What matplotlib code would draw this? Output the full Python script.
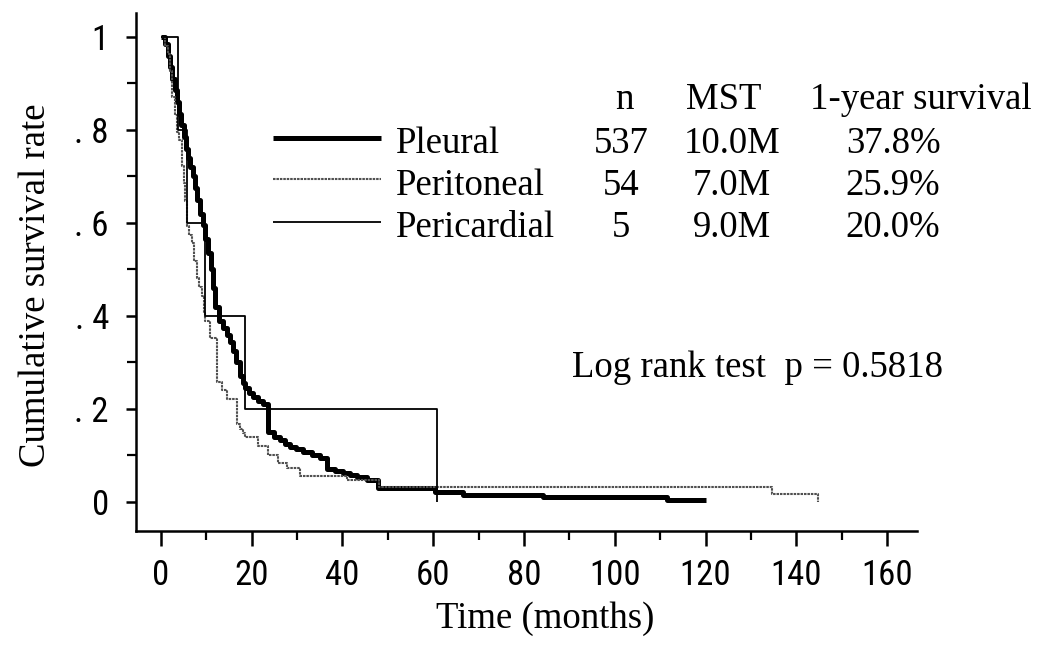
import matplotlib
matplotlib.use("Agg")
import matplotlib.pyplot as plt
from matplotlib.lines import Line2D
from matplotlib.ticker import MultipleLocator
from matplotlib import font_manager as fm

# ---------------- data ----------------
pleural_t = [0, 0.8, 1.5, 2.0, 2.5, 3.0, 3.5, 4.0, 4.5, 5.0,
             5.5, 6.0, 6.5, 7.0, 7.5, 8.0, 8.6, 9.2, 9.8, 10.4,
             11.0, 11.5, 12.0, 12.8, 13.6, 14.5, 15.2, 15.9, 16.6, 17.4,
             18.0, 18.5, 19.4, 20.3, 21.4, 22.5, 23.6, 24.8, 26.2, 27.3,
             28.4, 29.8, 31.3, 33.2, 35.0, 36.6, 38.4, 40.1, 41.6, 43.2,
             45.5, 47.8, 60.3, 66.5, 84.2, 111.5, 120.0]
pleural_s = [1.0, 0.985, 0.96, 0.935, 0.91, 0.885, 0.86, 0.835, 0.81, 0.785,
             0.76, 0.74, 0.72, 0.70, 0.675, 0.65, 0.62, 0.595, 0.565, 0.535,
             0.50, 0.46, 0.42, 0.39, 0.375, 0.36, 0.345, 0.325, 0.30, 0.27,
             0.255, 0.245, 0.235, 0.225, 0.218, 0.21, 0.15, 0.14, 0.133, 0.125,
             0.118, 0.113, 0.108, 0.102, 0.095, 0.072, 0.066, 0.062, 0.058, 0.054,
             0.048, 0.030, 0.022, 0.016, 0.010, 0.005, 0.005]

peritoneal_t = [0, 1.0, 1.5, 2.0, 2.4, 3.0, 3.5, 4.0, 4.6, 5.0,
                5.4, 5.7, 6.2, 6.8, 7.3, 7.9, 8.4, 9.0, 9.4, 9.8,
                10.8, 12.3, 13.4, 14.5, 16.7, 17.4, 18.0, 18.5, 21.4, 23.6,
                25.8, 27.8, 30.6, 41.0, 48.0, 134.7, 144.8]
peritoneal_s = [1.0, 0.981, 0.963, 0.926, 0.870, 0.833, 0.796, 0.778, 0.722, 0.685,
                0.648, 0.593, 0.574, 0.556, 0.519, 0.481, 0.463, 0.444, 0.407, 0.389,
                0.352, 0.259, 0.241, 0.222, 0.167, 0.157, 0.148, 0.139, 0.120, 0.102,
                0.083, 0.074, 0.056, 0.047, 0.032, 0.017, 0.0]

pericardial_t = [0, 3.7, 5.8, 9.8, 18.6, 60.8]
pericardial_s = [1.0, 0.8, 0.6, 0.4, 0.2, 0.0]

groups = ["Pleural", "Peritoneal", "Pericardial"]
n_vals = ["537", "54", "5"]
mst_vals = ["10.0M", "7.0M", "9.0M"]
yr1_vals = ["37.8%", "25.9%", "20.0%"]
header = ["n", "MST", "1-year survival"]

x_ticks = [0, 20, 40, 60, 80, 100, 120, 140, 160]
y_ticks = [0, 0.2, 0.4, 0.6, 0.8, 1.0]
y_ticklabels = ["0", ". 2", ". 4", ". 6", ". 8", "1"]

# ---------------- styles ----------------
styles = [
    dict(color="black", lw=3.6, ls="-"),
    dict(color="#505050", lw=1.5, ls=(0, (1.2, 0.45))),
    dict(color="black", lw=1.3, ls="-"),
]

# pick a narrow sans font if one is installed
names = {f.name for f in fm.fontManager.ttflist}
narrow = None
for cand in ["Liberation Sans Narrow", "Roboto Condensed", "Open Sans Condensed",
             "DejaVu Sans Condensed", "Noto Sans Condensed"]:
    if cand in names:
        narrow = cand
        break
cond_dejavu = any(f.name == "DejaVu Sans" and "condensed" in str(f.stretch).lower()
                  for f in fm.fontManager.ttflist)
if narrow is not None:
    tick_props = dict(family=[narrow, "DejaVu Sans"], size=25)
elif cond_dejavu:
    tick_props = dict(family=["DejaVu Sans"], stretch="condensed", size=23)
else:
    tick_props = dict(family=["Liberation Sans", "DejaVu Sans"], size=21)

W, H = 1037, 646
fig = plt.figure(figsize=(W / 100, H / 100), dpi=100)
ax = fig.add_axes([136 / W, 1 - 531 / H, (917 - 136) / W, (531 - 13) / H])

series = [(pleural_t, pleural_s), (peritoneal_t, peritoneal_s), (pericardial_t, pericardial_s)]
for (t, s), st in zip(series, styles):
    ax.step(t, s, where="post", solid_capstyle="butt", **st)

ax.set_xlim(-5.5, 166.6)
ax.set_ylim(-0.0624, 1.0516)

for sp in ["top", "right"]:
    ax.spines[sp].set_visible(False)
for sp in ["left", "bottom"]:
    ax.spines[sp].set_linewidth(1.8)

ax.set_xticks(x_ticks)
ax.xaxis.set_minor_locator(MultipleLocator(10))
ax.set_yticks(y_ticks)
ax.set_yticklabels(y_ticklabels)
ax.yaxis.set_minor_locator(MultipleLocator(0.1))

ax.tick_params(axis="x", which="major", direction="out", length=11, width=1.8, pad=9)
ax.tick_params(axis="x", which="minor", direction="out", length=6.5, width=1.6)
ax.tick_params(axis="y", which="major", direction="out", length=7.5, width=1.8, pad=12)
ax.tick_params(axis="y", which="minor", direction="out", length=6.5, width=1.6)
for lab in ax.get_xticklabels() + ax.get_yticklabels():
    lab.set_fontproperties(fm.FontProperties(**tick_props))

serif = ["Liberation Serif", "DejaVu Serif"]
fs = 26.5

def ftext(x, y, s, **kw):
    fig.text(x / W, 1 - y / H, s, family=serif, fontsize=fs, **kw)

# axis labels
ftext(545, 628, "Time (months)", ha="center", va="baseline")
ftext(36, 285, "Cumulative survival rate", ha="center", va="center", rotation=90)

# table header
ftext(624, 109, header[0], ha="center", va="baseline")
ftext(724, 109, header[1], ha="center", va="baseline")
ftext(921, 109, header[2], ha="center", va="baseline")

row_base = [153, 195, 237]
line_y = [138, 179, 222]
for i in range(3):
    st = styles[i]
    fig.add_artist(Line2D([273 / W, 381 / W], [1 - line_y[i] / H] * 2,
                          transform=fig.transFigure, color=st["color"],
                          lw=st["lw"], ls=st["ls"], solid_capstyle="butt"))
    ftext(396, row_base[i], groups[i], ha="left", va="baseline")
    ftext(621, row_base[i], n_vals[i], ha="center", va="baseline")
    ftext(732, row_base[i], mst_vals[i], ha="center", va="baseline")
    ftext(893, row_base[i], yr1_vals[i], ha="center", va="baseline")

ftext(572, 377, "Log rank test  p = 0.5818", ha="left", va="baseline")

fig.savefig("out.png", dpi=100)
